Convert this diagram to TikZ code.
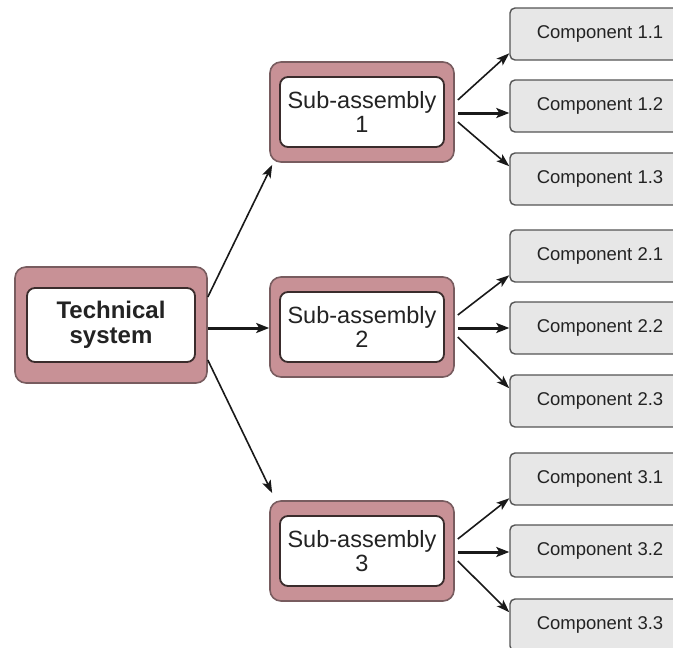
\documentclass[tikz,border=0pt]{standalone}
\usepackage{fontspec}
\setmainfont{Liberation Sans}
\usetikzlibrary{arrows.meta,calc}
\definecolor{framefill}{RGB}{200,145,150}
\definecolor{framedraw}{RGB}{120,92,95}
\definecolor{innerdraw}{RGB}{58,44,44}
\definecolor{compfill}{RGB}{231,231,231}
\definecolor{compdraw}{RGB}{85,85,85}
\definecolor{txt}{RGB}{35,35,35}
\tikzset{
  frame/.style={draw=framedraw, fill=framefill, line width=1.6pt, rounded corners=11pt, inner sep=0pt},
  panel/.style={draw=innerdraw, fill=white, line width=1.8pt, rounded corners=8pt, inner sep=0pt, align=center, text=txt},
  comp/.style={draw=compdraw, fill=compfill, line width=1.4pt, rounded corners=5pt, inner sep=0pt,
    minimum width=180pt, minimum height=52pt, text=txt, font=\fontsize{18.5}{20}\selectfont},
  link/.style={-{Stealth[length=13pt,width=9pt,inset=3pt]}, line width=1.6pt, black!90},
  mainlink/.style={-{Stealth[length=13pt,width=10pt,inset=3pt]}, line width=3pt, black!90}
}
\begin{document}
\begin{tikzpicture}[x=1pt,y=-1pt]
\useasboundingbox (0,0) rectangle (673,648);
\begin{scope}
\clip (0,0) rectangle (673,648);

% top level
\node[frame, minimum width=192pt, minimum height=116pt] (ts) at (111,325) {};
\node[panel, minimum width=168pt, minimum height=74pt,
  font=\fontsize{24}{25}\selectfont\bfseries] (tsin) at (111,325) {Technical\\system};

% sub-assemblies
\foreach \i/\y in {1/112,2/327,3/551}{
  \node[frame, minimum width=184pt, minimum height=100pt] (s\i) at (362,\y) {};
  \node[panel, minimum width=164pt, minimum height=70pt,
    font=\fontsize{23.5}{24}\selectfont] (s\i in) at (362,\y) {Sub-assembly\\\i};
}

% components
\node[comp] (c11) at (600,34)  {Component 1.1};
\node[comp] (c12) at (600,106) {Component 1.2};
\node[comp] (c13) at (600,179) {Component 1.3};
\node[comp] (c21) at (600,256) {Component 2.1};
\node[comp] (c22) at (600,328) {Component 2.2};
\node[comp] (c23) at (600,401) {Component 2.3};
\node[comp] (c31) at (600,479) {Component 3.1};
\node[comp] (c32) at (600,551) {Component 3.2};
\node[comp] (c33) at (600,625) {Component 3.3};

% system to sub-assemblies
\draw[link] ([yshift=28pt]ts.east) -- ([xshift=3pt,yshift=-2pt]s1.south west);
\draw[mainlink] ([yshift=-3pt]ts.east) -- ([yshift=-3pt]ts.east -| s2.west);
\draw[link] ([yshift=-35pt]ts.east) -- ([xshift=3pt,yshift=7pt]s3.north west);

% sub-assemblies to components
\foreach \i in {1,2,3}{
  \draw[link] ([xshift=3pt,yshift=12pt]s\i.east) -- (c\i1.192);
  \draw[mainlink] ([xshift=3pt,yshift=-1pt]s\i.east) -- ([yshift=-1pt]s\i.east -| c\i2.west);
  \draw[link] ([xshift=3pt,yshift=-10pt]s\i.east) -- (c\i3.172);
}
\end{scope}
\end{tikzpicture}
\end{document}
